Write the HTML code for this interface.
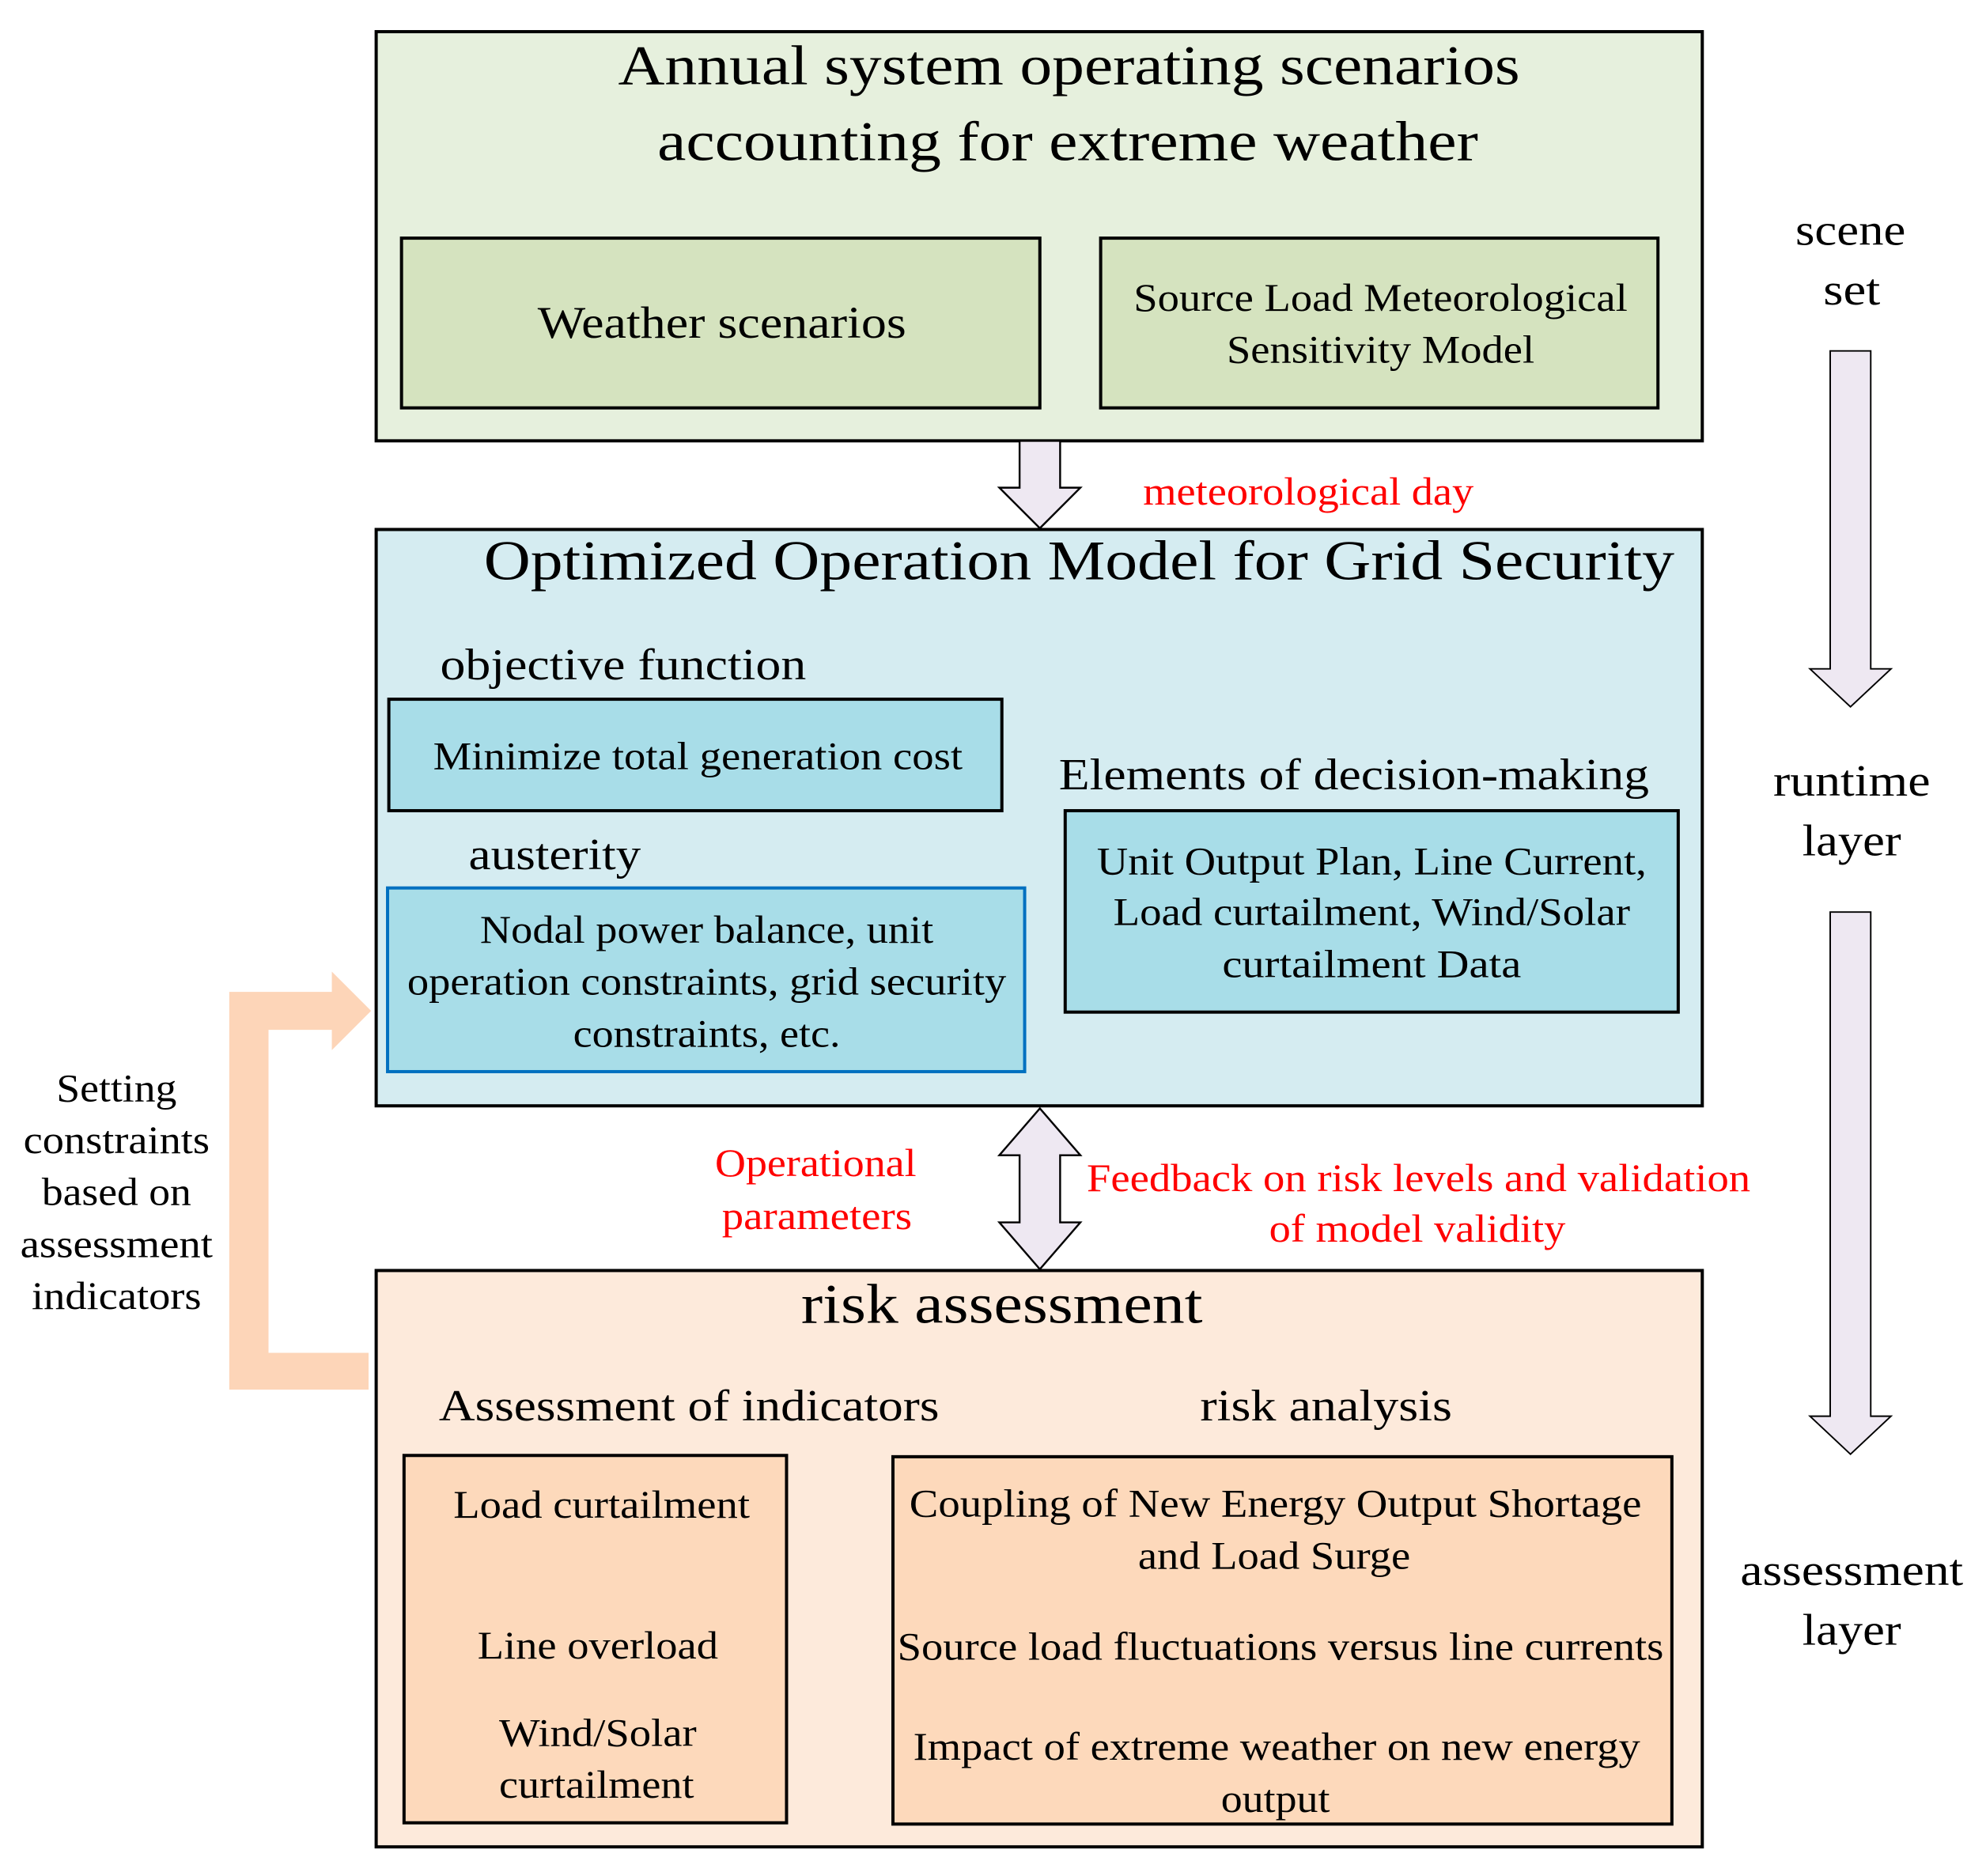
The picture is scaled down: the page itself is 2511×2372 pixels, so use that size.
<!DOCTYPE html>
<html><head><meta charset="utf-8"><style>
html,body{margin:0;padding:0;background:#fff}
svg{display:block}
text{font-family:"Liberation Serif",serif;dominant-baseline:central;text-anchor:middle;fill:#000}
.r{fill:#ff0000}
</style></head><body>
<svg width="2511" height="2372" viewBox="0 0 1568 1481" preserveAspectRatio="none" xmlns="http://www.w3.org/2000/svg">
<rect x="0" y="0" width="1568" height="1481" fill="#fff"/>
<rect x="297" y="25" width="1047" height="323" fill="#e6f0dd" stroke="#000" stroke-width="2.5"/>
<text x="844" y="52" font-size="44" textLength="712" lengthAdjust="spacingAndGlyphs">Annual system operating scenarios</text>
<text x="843" y="112" font-size="44" textLength="648" lengthAdjust="spacingAndGlyphs">accounting for extreme weather</text>
<rect x="317" y="188" width="504" height="134" fill="#d5e3bf" stroke="#000" stroke-width="2.5"/>
<text x="570" y="255" font-size="36" textLength="291" lengthAdjust="spacingAndGlyphs">Weather scenarios</text>
<rect x="869" y="188" width="440" height="134" fill="#d5e3bf" stroke="#000" stroke-width="2.5"/>
<text x="1090" y="235" font-size="31" textLength="390" lengthAdjust="spacingAndGlyphs">Source Load Meteorological</text>
<text x="1090" y="276" font-size="31" textLength="243" lengthAdjust="spacingAndGlyphs">Sensitivity Model</text>
<polygon points="805,348 837,348 837,385 853,385 821,417 789,385 805,385" fill="#eee8f2" stroke="#000" stroke-width="1.5"/>
<text class="r" x="1033" y="388" font-size="31" textLength="261" lengthAdjust="spacingAndGlyphs">meteorological day</text>
<rect x="297" y="418" width="1047" height="455" fill="#d5ecf1" stroke="#000" stroke-width="2.5"/>
<text x="852" y="443" font-size="44" textLength="940" lengthAdjust="spacingAndGlyphs">Optimized Operation Model for Grid Security</text>
<text x="492" y="525" font-size="35" textLength="289" lengthAdjust="spacingAndGlyphs">objective function</text>
<rect x="307" y="552" width="484" height="88" fill="#a8dde8" stroke="#000" stroke-width="2.5"/>
<text x="551" y="597" font-size="31" textLength="418" lengthAdjust="spacingAndGlyphs">Minimize total generation cost</text>
<text x="438" y="675" font-size="35" textLength="136" lengthAdjust="spacingAndGlyphs">austerity</text>
<rect x="306" y="701" width="503" height="145" fill="#a8dde8" stroke="#0070c0" stroke-width="2.5"/>
<text x="558" y="734" font-size="31" textLength="358" lengthAdjust="spacingAndGlyphs">Nodal power balance, unit</text>
<text x="558" y="775" font-size="31" textLength="473" lengthAdjust="spacingAndGlyphs">operation constraints, grid security</text>
<text x="558" y="816" font-size="31" textLength="211" lengthAdjust="spacingAndGlyphs">constraints, etc.</text>
<text x="1069" y="612" font-size="35" textLength="466" lengthAdjust="spacingAndGlyphs">Elements of decision-making</text>
<rect x="841" y="640" width="484" height="159" fill="#a8dde8" stroke="#000" stroke-width="2.5"/>
<text x="1083" y="680" font-size="31" textLength="434" lengthAdjust="spacingAndGlyphs">Unit Output Plan, Line Current,</text>
<text x="1083" y="720" font-size="31" textLength="408" lengthAdjust="spacingAndGlyphs">Load curtailment, Wind/Solar</text>
<text x="1083" y="761" font-size="31" textLength="236" lengthAdjust="spacingAndGlyphs">curtailment  Data</text>
<polygon points="821,875 853,912 837,912 837,965 853,965 821,1002 789,965 805,965 805,912 789,912" fill="#eee8f2" stroke="#000" stroke-width="1.5"/>
<text class="r" x="644" y="918" font-size="31" textLength="159" lengthAdjust="spacingAndGlyphs">Operational</text>
<text class="r" x="645" y="960" font-size="31" textLength="150" lengthAdjust="spacingAndGlyphs">parameters</text>
<text class="r" x="1120" y="930" font-size="31" textLength="524" lengthAdjust="spacingAndGlyphs">Feedback on risk levels and validation</text>
<text class="r" x="1119" y="970" font-size="31" textLength="234" lengthAdjust="spacingAndGlyphs">of model validity</text>
<rect x="297" y="1003" width="1047" height="455" fill="#fdeadb" stroke="#000" stroke-width="2.5"/>
<text x="791" y="1030" font-size="44" textLength="317" lengthAdjust="spacingAndGlyphs">risk assessment</text>
<text x="544" y="1110" font-size="35" textLength="395" lengthAdjust="spacingAndGlyphs">Assessment of indicators</text>
<text x="1047" y="1110" font-size="35" textLength="199" lengthAdjust="spacingAndGlyphs">risk analysis</text>
<rect x="319" y="1149" width="302" height="290" fill="#fdd9bb" stroke="#000" stroke-width="2.5"/>
<text x="475" y="1188" font-size="31" textLength="234" lengthAdjust="spacingAndGlyphs">Load curtailment</text>
<text x="472" y="1299" font-size="31" textLength="190" lengthAdjust="spacingAndGlyphs">Line overload</text>
<text x="472" y="1368" font-size="31" textLength="156" lengthAdjust="spacingAndGlyphs">Wind/Solar</text>
<text x="471" y="1409" font-size="31" textLength="154" lengthAdjust="spacingAndGlyphs">curtailment</text>
<rect x="705" y="1150" width="615" height="290" fill="#fdd9bb" stroke="#000" stroke-width="2.5"/>
<text x="1007" y="1187" font-size="31" textLength="578" lengthAdjust="spacingAndGlyphs">Coupling of New Energy Output Shortage</text>
<text x="1006" y="1228" font-size="31" textLength="215" lengthAdjust="spacingAndGlyphs">and Load Surge</text>
<text x="1011" y="1300" font-size="31" textLength="605" lengthAdjust="spacingAndGlyphs">Source load fluctuations versus line currents</text>
<text x="1008" y="1379" font-size="31" textLength="574" lengthAdjust="spacingAndGlyphs">Impact of extreme weather on new energy</text>
<text x="1007" y="1420" font-size="31" textLength="86" lengthAdjust="spacingAndGlyphs">output</text>
<text x="1461" y="182" font-size="35" textLength="87" lengthAdjust="spacingAndGlyphs">scene</text>
<text x="1462" y="229" font-size="35" textLength="45" lengthAdjust="spacingAndGlyphs">set</text>
<polygon points="1445,277 1477,277 1477,528 1493,528 1461,558 1429,528 1445,528" fill="#eee8f2" stroke="#000" stroke-width="1.2"/>
<text x="1462" y="617" font-size="35" textLength="124" lengthAdjust="spacingAndGlyphs">runtime</text>
<text x="1462" y="664" font-size="35" textLength="78" lengthAdjust="spacingAndGlyphs">layer</text>
<polygon points="1445,720 1477,720 1477,1118 1493,1118 1461,1148 1429,1118 1445,1118" fill="#eee8f2" stroke="#000" stroke-width="1.2"/>
<text x="1462" y="1240" font-size="35" textLength="176" lengthAdjust="spacingAndGlyphs">assessment</text>
<text x="1462" y="1287" font-size="35" textLength="78" lengthAdjust="spacingAndGlyphs">layer</text>
<polygon points="181,783 262,783 262,767 293,798 262,829 262,813 212,813 212,1068 291,1068 291,1097 181,1097" fill="#fdd5b8"/>
<text x="92" y="859" font-size="31" textLength="95" lengthAdjust="spacingAndGlyphs">Setting</text>
<text x="92" y="900" font-size="31" textLength="147" lengthAdjust="spacingAndGlyphs">constraints</text>
<text x="92" y="941" font-size="31" textLength="118" lengthAdjust="spacingAndGlyphs">based on</text>
<text x="92" y="982" font-size="31" textLength="152" lengthAdjust="spacingAndGlyphs">assessment</text>
<text x="92" y="1023" font-size="31" textLength="134" lengthAdjust="spacingAndGlyphs">indicators</text>
</svg>
</body></html>
